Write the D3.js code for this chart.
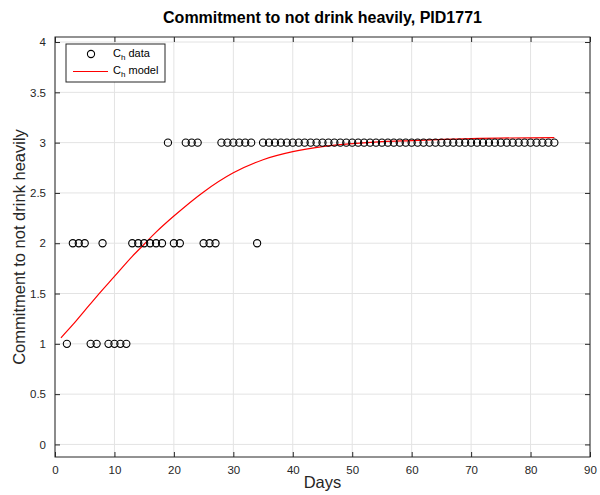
<!DOCTYPE html>
<html>
<head>
<meta charset="utf-8">
<script src="https://cdn.jsdelivr.net/npm/d3@7"></script>
<style>
  html, body { margin: 0; padding: 0; background: #fff; }
  svg { display: block; font-family: "Liberation Sans", Arial, Helvetica, sans-serif; }
</style>
</head>
<body>
<svg id="chart" width="600" height="495"></svg>
<script>
// Observed commitment scores, grouped by level
const daysLevel1 = [2, 6, 7, 9, 10, 11, 12];
const daysLevel2 = [3, 4, 5, 8, 13, 14, 15, 16, 17, 18, 20, 21, 25, 26, 27, 34];
const daysLevel3 = [19, 22, 23, 24, 28, 29, 30, 31, 32, 33,
  35, 36, 37, 38, 39, 40, 41, 42, 43, 44, 45, 46, 47, 48, 49, 50,
  51, 52, 53, 54, 55, 56, 57, 58, 59, 60, 61, 62, 63, 64, 65, 66,
  67, 68, 69, 70, 71, 72, 73, 74, 75, 76, 77, 78, 79, 80, 81, 82, 83, 84];

// Fitted model curve
const modelDays   = [1, 3, 5, 7, 10, 13, 15, 17, 20, 25, 30, 35, 40, 45, 50, 55, 60, 70, 84];
const modelValues = [1.06, 1.19, 1.33, 1.47, 1.67, 1.87, 1.99, 2.11, 2.27, 2.51, 2.70, 2.83, 2.91, 2.96, 2.99, 3.01, 3.02, 3.04, 3.05];

const xTicks = [0, 10, 20, 30, 40, 50, 60, 70, 80, 90];
const yTicks = [0, 0.5, 1, 1.5, 2, 2.5, 3, 3.5, 4];

const dataPoints = [
  ...daysLevel1.map(d => ({ day: d, value: 1 })),
  ...daysLevel2.map(d => ({ day: d, value: 2 })),
  ...daysLevel3.map(d => ({ day: d, value: 3 }))
];
const modelPoints = modelDays.map((d, i) => ({ day: d, value: modelValues[i] }));

const svg = d3.select("#chart");
const plotLeft = 55, plotRight = 590, plotTop = 37, plotBottom = 457;
const axisColor = "#262626";

const x = d3.scaleLinear().domain([0, 90]).range([plotLeft, plotRight]);
const y = d3.scaleLinear().domain([-0.125, 4.05]).range([plotBottom, plotTop]);

// Grid
const grid = svg.append("g");
grid.selectAll(".gx").data(xTicks).join("line")
  .attr("x1", d => x(d)).attr("x2", d => x(d))
  .attr("y1", plotTop).attr("y2", plotBottom)
  .attr("stroke", "#e3e3e3").attr("stroke-width", 1);
grid.selectAll(".gy").data(yTicks).join("line")
  .attr("x1", plotLeft).attr("x2", plotRight)
  .attr("y1", d => y(d)).attr("y2", d => y(d))
  .attr("stroke", "#e3e3e3").attr("stroke-width", 1);

// Axes (inward ticks, boxed)
const tickLen = 5;
const xAxisBottom = d3.axisBottom(x).tickValues(xTicks).tickSizeInner(-tickLen).tickSizeOuter(0).tickPadding(9).tickFormat(d3.format("d"));
const xAxisTop = d3.axisTop(x).tickValues(xTicks).tickSizeInner(-tickLen).tickSizeOuter(0).tickFormat("");
const yAxisLeft = d3.axisLeft(y).tickValues(yTicks).tickSizeInner(-tickLen).tickSizeOuter(0).tickPadding(9).tickFormat(d => String(d));
const yAxisRight = d3.axisRight(y).tickValues(yTicks).tickSizeInner(-tickLen).tickSizeOuter(0).tickFormat("");

function styleAxis(g) {
  g.select(".domain").remove();
  g.selectAll(".tick line").attr("stroke", axisColor);
  g.selectAll(".tick text").attr("fill", axisColor).attr("font-size", 11.5)
    .attr("font-family", "Liberation Sans, Arial, sans-serif");
}
svg.append("g").attr("transform", `translate(0,${plotBottom})`).call(xAxisBottom).call(styleAxis);
svg.append("g").attr("transform", `translate(0,${plotTop})`).call(xAxisTop).call(styleAxis);
svg.append("g").attr("transform", `translate(${plotLeft},0)`).call(yAxisLeft).call(styleAxis);
svg.append("g").attr("transform", `translate(${plotRight},0)`).call(yAxisRight).call(styleAxis);

svg.append("rect")
  .attr("x", plotLeft).attr("y", plotTop)
  .attr("width", plotRight - plotLeft).attr("height", plotBottom - plotTop)
  .attr("fill", "none").attr("stroke", axisColor).attr("stroke-width", 1);

// Model line
const line = d3.line().x(d => x(d.day)).y(d => y(d.value)).curve(d3.curveMonotoneX);
svg.append("path").datum(modelPoints)
  .attr("d", line)
  .attr("fill", "none").attr("stroke", "#ff0000").attr("stroke-width", 1.2);

// Data markers
svg.append("g").selectAll("circle").data(dataPoints).join("circle")
  .attr("cx", d => x(d.day)).attr("cy", d => y(d.value))
  .attr("r", 3.6)
  .attr("fill", "none").attr("stroke", "#000").attr("stroke-width", 1.1);

// Title and labels
svg.append("text")
  .attr("x", (plotLeft + plotRight) / 2).attr("y", 23)
  .attr("text-anchor", "middle").attr("font-weight", "bold").attr("font-size", 16)
  .attr("fill", "#000")
  .text("Commitment to not drink heavily, PID1771");

svg.append("text")
  .attr("x", (plotLeft + plotRight) / 2).attr("y", 488)
  .attr("text-anchor", "middle").attr("font-size", 16.5).attr("fill", axisColor)
  .text("Days");

svg.append("text")
  .attr("transform", `translate(25,${(plotTop + plotBottom) / 2}) rotate(-90)`)
  .attr("text-anchor", "middle").attr("font-size", 16.5).attr("fill", axisColor)
  .text("Commitment to not drink heavily");

// Legend
const lg = svg.append("g");
lg.append("rect").attr("x", 66).attr("y", 44).attr("width", 99).attr("height", 38)
  .attr("fill", "#fff").attr("stroke", axisColor).attr("stroke-width", 1);
lg.append("circle").attr("cx", 91).attr("cy", 54).attr("r", 3.6)
  .attr("fill", "none").attr("stroke", "#000").attr("stroke-width", 1.1);
lg.append("line").attr("x1", 73).attr("x2", 108).attr("y1", 71.5).attr("y2", 71.5)
  .attr("stroke", "#ff0000").attr("stroke-width", 1.2);

function legendLabel(yPos, word) {
  const t = lg.append("text").attr("x", 113).attr("y", yPos)
    .attr("font-size", 11).attr("fill", "#000");
  t.append("tspan").text("C");
  t.append("tspan").attr("font-size", 8).attr("dy", 3).text("h");
  t.append("tspan").attr("dy", -3).text(" " + word);
}
legendLabel(57, "data");
legendLabel(74, "model");
</script>
</body>
</html>
